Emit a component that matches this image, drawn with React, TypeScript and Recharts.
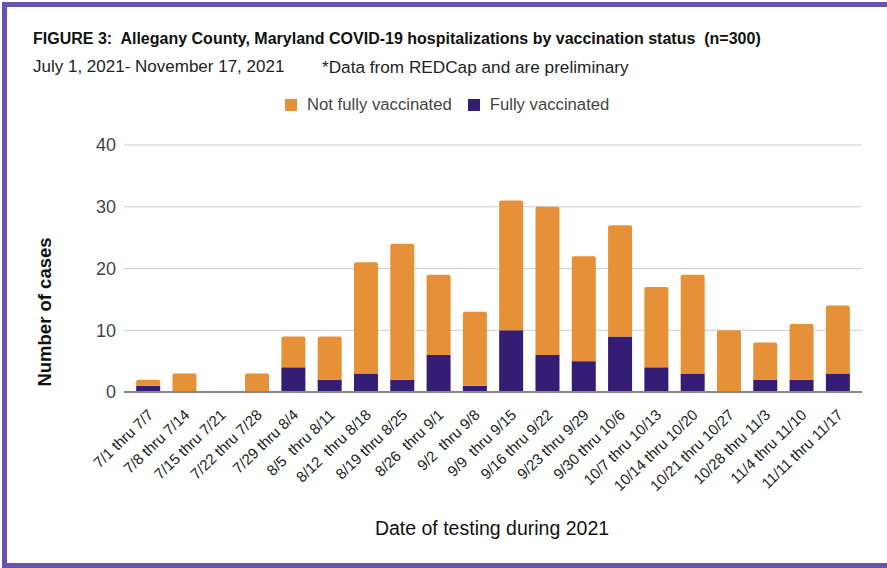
import { BarChart, Bar, XAxis, YAxis, CartesianGrid } from "recharts";

// week ranges (x axis)
const weeks = [
  "7/1 thru 7/7",
  "7/8 thru 7/14",
  "7/15 thru 7/21",
  "7/22 thru 7/28",
  "7/29 thru 8/4",
  "8/5  thru 8/11",
  "8/12  thru 8/18",
  "8/19 thru 8/25",
  "8/26  thru 9/1",
  "9/2  thru 9/8",
  "9/9  thru 9/15",
  "9/16 thru 9/22",
  "9/23 thru 9/29",
  "9/30 thru 10/6",
  "10/7 thru 10/13",
  "10/14 thru 10/20",
  "10/21 thru 10/27",
  "10/28 thru 11/3",
  "11/4 thru 11/10",
  "11/11 thru 11/17",
];

const fullyVaccinated = [1, 0, 0, 0, 4, 2, 3, 2, 6, 1, 10, 6, 5, 9, 4, 3, 0, 2, 2, 3];
const notFullyVaccinated = [1, 3, 0, 3, 5, 7, 18, 22, 13, 12, 21, 24, 17, 18, 13, 16, 10, 6, 9, 11];

const yTicks = [0, 10, 20, 30, 40];

const ORANGE = "#E69138";
const PURPLE = "#351C75";
const FONT = "'Liberation Sans', Arial, sans-serif";

const data = weeks.map((week, i) => ({
  week,
  fully: fullyVaccinated[i],
  notFully: notFullyVaccinated[i],
}));

const legendItems = [
  { label: "Not fully vaccinated", color: ORANGE },
  { label: "Fully vaccinated", color: PURPLE },
];

function WeekTick(props: any) {
  const { x, y, payload } = props;
  const tx = x + 6;
  const ty = y + 16;
  return (
    <text
      x={tx}
      y={ty}
      textAnchor="end"
      fontSize={15}
      fill="#222"
      fontFamily={FONT}
      style={{ whiteSpace: "pre" }}
      transform={`rotate(-44 ${tx} ${ty})`}
    >
      {payload.value}
    </text>
  );
}

export default function App() {
  return (
    <div
      style={{
        position: "absolute",
        left: 0,
        top: 0,
        width: 887,
        height: 568,
        background: "#fff",
        fontFamily: FONT,
        overflow: "hidden",
      }}
    >
      {/* purple frame */}
      <div
        style={{
          position: "absolute",
          left: 2,
          top: 2,
          width: 890,
          height: 566,
          borderLeft: "5px solid #6A52AE",
          borderTop: "5px solid #6A52AE",
          borderBottom: "5px solid #6A52AE",
          boxSizing: "border-box",
        }}
      />
      <div
        style={{
          position: "absolute",
          left: 33,
          top: 30,
          fontSize: 16,
          fontWeight: "bold",
          color: "#111",
          whiteSpace: "pre",
        }}
      >
        {"FIGURE 3:  Allegany County, Maryland COVID-19 hospitalizations by vaccination status  (n=300)"}
      </div>
      <div style={{ position: "absolute", left: 33, top: 57, fontSize: 17, color: "#222" }}>
        July 1, 2021- November 17, 2021
      </div>
      <div style={{ position: "absolute", left: 322, top: 57, fontSize: 17.2, color: "#222" }}>
        *Data from REDCap and are preliminary
      </div>
      {/* legend */}
      <div
        style={{
          position: "absolute",
          left: 285,
          top: 95,
          display: "flex",
          alignItems: "center",
          fontSize: 16.7,
          color: "#444",
        }}
      >
        {legendItems.map((it, i) => (
          <div key={it.label} style={{ display: "flex", alignItems: "center", marginRight: i === 0 ? 16 : 0 }}>
            <span style={{ width: 12, height: 12, background: it.color, display: "inline-block", marginRight: 10 }} />
            <span>{it.label}</span>
          </div>
        ))}
      </div>
      <div
        style={{
          position: "absolute",
          left: 45,
          top: 312,
          transform: "translate(-50%, -50%) rotate(-90deg)",
          fontSize: 18.5,
          fontWeight: "bold",
          color: "#111",
          whiteSpace: "nowrap",
        }}
      >
        Number of cases
      </div>
      <div
        style={{
          position: "absolute",
          left: 492,
          top: 528,
          transform: "translate(-50%, -50%)",
          fontSize: 19.5,
          color: "#111",
          whiteSpace: "nowrap",
        }}
      >
        Date of testing during 2021
      </div>
      <div style={{ position: "absolute", left: 0, top: 0 }}>
        <BarChart
          width={887}
          height={568}
          data={data}
          margin={{ top: 145, right: 25, bottom: 76, left: 64 }}
          barCategoryGap="17%"
        >
          <CartesianGrid vertical={false} stroke="#cccccc" />
          <XAxis
            dataKey="week"
            interval={0}
            padding={{ left: 6, right: 6 }}
            height={100}
            tickLine={false}
            axisLine={{ stroke: "#888", strokeWidth: 2 }}
            tick={<WeekTick />}
          />
          <YAxis
            width={60}
            domain={[0, 40]}
            ticks={yTicks}
            tickLine={false}
            axisLine={false}
            tick={{ fontSize: 18, fill: "#444", fontFamily: FONT }}
          />
          <Bar dataKey="fully" stackId="a" fill={PURPLE} isAnimationActive={false} />
          <Bar dataKey="notFully" stackId="a" fill={ORANGE} radius={[2, 2, 0, 0]} isAnimationActive={false} />
        </BarChart>
      </div>
    </div>
  );
}
